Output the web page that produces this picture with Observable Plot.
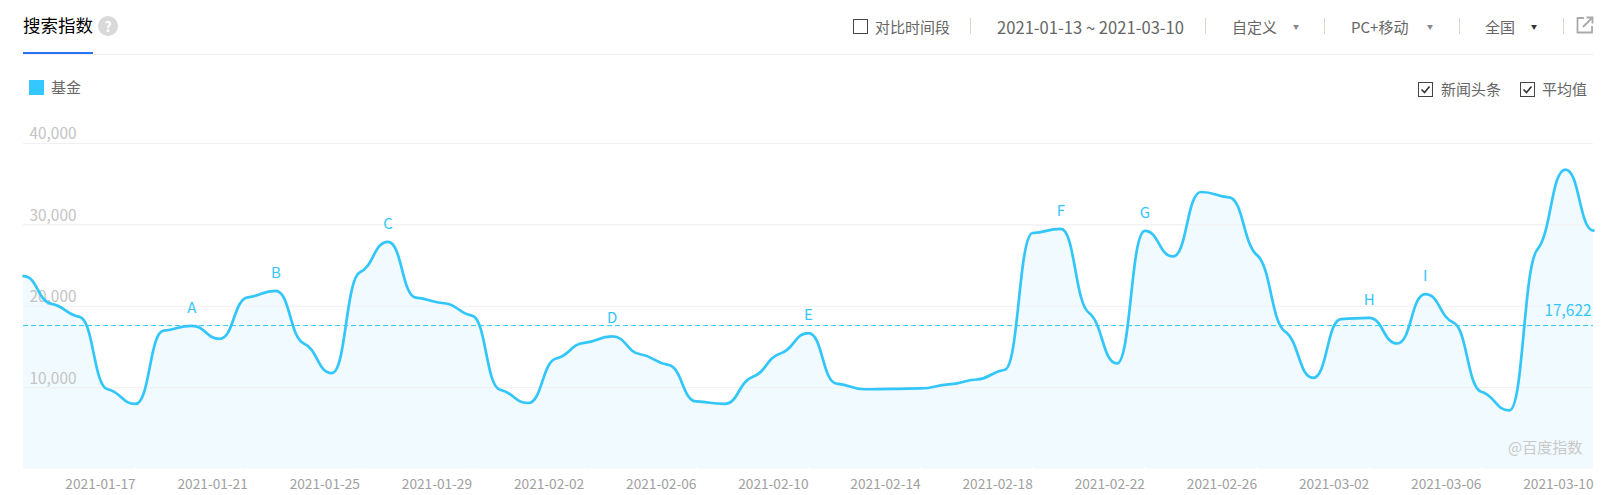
<!DOCTYPE html>
<html lang="zh">
<head>
<meta charset="utf-8">
<script src="https://cdn.jsdelivr.net/npm/d3@7"></script>
<script src="https://cdn.jsdelivr.net/npm/@observablehq/plot@0.6"></script>
<style>
html,body{margin:0;padding:0;background:#fff;}
body{width:1614px;height:495px;overflow:hidden;font-family:"Noto Sans CJK SC","Noto Sans",sans-serif;}
#header{position:relative;width:1614px;height:110px;}
#header span,#header i,#header svg{position:absolute;display:block;font-style:normal;white-space:nowrap;}
.t{font-size:15px;line-height:20px;color:#666;top:17px;}
.div{width:1px;height:16px;top:18px;background:#e0d6cf;}
.arr{font-size:6px;line-height:10px;top:22px;color:#888;}
#chart svg{display:block;}
</style>
</head>
<body>
<div id="header"></div>
<div id="chart"></div>
<script>
const dates = ["2021-01-13","2021-01-14","2021-01-15","2021-01-16","2021-01-17","2021-01-18","2021-01-19","2021-01-20","2021-01-21","2021-01-22","2021-01-23","2021-01-24","2021-01-25","2021-01-26","2021-01-27","2021-01-28","2021-01-29","2021-01-30","2021-01-31","2021-02-01","2021-02-02","2021-02-03","2021-02-04","2021-02-05","2021-02-06","2021-02-07","2021-02-08","2021-02-09","2021-02-10","2021-02-11","2021-02-12","2021-02-13","2021-02-14","2021-02-15","2021-02-16","2021-02-17","2021-02-18","2021-02-19","2021-02-20","2021-02-21","2021-02-22","2021-02-23","2021-02-24","2021-02-25","2021-02-26","2021-02-27","2021-02-28","2021-03-01","2021-03-02","2021-03-03","2021-03-04","2021-03-05","2021-03-06","2021-03-07","2021-03-08","2021-03-09","2021-03-10"];
const values = [23700,20300,18700,9800,8000,17000,17600,16000,21100,21900,15420,11790,24170,27920,21050,20370,18850,9740,8110,13580,15500,16300,14100,12800,8300,8000,11300,14200,16700,10500,9800,9850,9900,10400,11000,12200,29000,29500,19200,12970,29270,26120,34040,33390,26280,16890,11200,18430,18560,15420,21500,18000,9500,7200,27000,36800,29300];
const xTickLabels = ["2021-01-17","2021-01-21","2021-01-25","2021-01-29","2021-02-02","2021-02-06","2021-02-10","2021-02-14","2021-02-18","2021-02-22","2021-02-26","2021-03-02","2021-03-06","2021-03-10"];
const yTicks = [10000,20000,30000,40000];
const average = 17622;
const newsDates = ["2021-01-19","2021-01-22","2021-01-26","2021-02-03","2021-02-10","2021-02-19","2021-02-22","2021-03-02","2021-03-04"];
const newsLabels = ["A","B","C","D","E","F","G","H","I"];

const parse = d3.utcParse("%Y-%m-%d");
const fmt = d3.utcFormat("%Y-%m-%d");
const series = dates.map((d,i)=>({date:parse(d),value:values[i]}));
const news = newsDates.map((d,i)=>({date:parse(d),value:values[dates.indexOf(d)],label:newsLabels[i]}));
const first = series[0].date, last = series[series.length-1].date;
const blue = "#33c6fb";
const font = '"Noto Sans CJK SC","Noto Sans",sans-serif';

// A smoothing curve with shallow tangents at every sample, which gives the reference its shelves.
function shelfCurve(context){
  let xs, ys, line = NaN;
  return {
    areaStart(){ line = 0; },
    areaEnd(){ line = NaN; },
    lineStart(){ xs = []; ys = []; },
    point(x,y){ xs.push(+x); ys.push(+y); },
    lineEnd(){
      const n = xs.length;
      if (n) {
        if (line === 1) context.lineTo(xs[0],ys[0]); else context.moveTo(xs[0],ys[0]);
        const s = d3.range(n-1).map(i=>(ys[i+1]-ys[i])/(xs[i+1]-xs[i]));
        const m = xs.map((_,i)=>{
          if (i===0||i===n-1) return 0;
          const a=s[i-1], b=s[i];
          if (a*b<=0) return 0;
          return Math.sign(a)*0.4*Math.min(Math.abs(a),Math.abs(b));
        });
        for (let i=0;i<n-1;i++){
          const h=(xs[i+1]-xs[i])*0.5;
          context.bezierCurveTo(xs[i]+h,ys[i]+m[i]*h,xs[i+1]-h,ys[i+1]-m[i+1]*h,xs[i+1],ys[i+1]);
        }
      }
      if (line === 1) context.closePath();
      if (line === 0) line = 1;
    }
  };
}

const chart = Plot.plot({
  width:1614, height:385,
  marginLeft:23, marginRight:21, marginTop:33, marginBottom:26.5,
  style:{fontFamily:font,background:"transparent",overflow:"visible"},
  x:{type:"utc",domain:[first,last]},
  y:{domain:[0,40000]},
  marks:[
    Plot.areaY(series,{x:"date",y:"value",curve:shelfCurve,fill:"#f1fafe"}),
    Plot.ruleY(yTicks,{stroke:"#f0f1f3",strokeWidth:1.2}),
    Plot.axisY(yTicks,{anchor:"left",tickSize:0,tickPadding:0,textAnchor:"start",dx:6,dy:-9,fontSize:15.4,fill:"#c4c4c4",tickFormat:d=>d3.format(",")(d),label:null}),
    Plot.ruleX(xTickLabels.map(parse),{y1:0,y2:300,stroke:"#fff",strokeWidth:1.2}),
    Plot.axisX(xTickLabels.map(parse),{tickSize:0,tickPadding:10,textAnchor:"end",fontSize:13.7,fill:"#a0a0a0",tickFormat:fmt,label:null}),
    Plot.ruleY([average],{stroke:blue,strokeWidth:1,strokeDasharray:"5 3"}),
    Plot.lineY(series,{x:"date",y:"value",curve:shelfCurve,stroke:blue,strokeWidth:2.7}),
    Plot.text(news,{x:"date",y:"value",text:"label",dy:-18,fontSize:15,fill:blue}),
    Plot.text([average],{x:last,y:d=>d,text:d=>d3.format(",")(d),textAnchor:"end",dx:-2,dy:-14.5,fontSize:15.4,fill:blue})
  ]
});
document.getElementById("chart").appendChild(chart);

const h = document.getElementById("header");
function el(tag,css,text,cls){const e=document.createElement(tag);if(cls)e.className=cls;e.style.cssText=css;if(text!=null)e.textContent=text;h.appendChild(e);return e;}
const box=(x,y,chk)=>{const s=document.createElementNS("http://www.w3.org/2000/svg","svg");s.setAttribute("width",15);s.setAttribute("height",15);s.style.left=x+"px";s.style.top=y+"px";
 s.innerHTML='<rect x="0.5" y="0.5" width="14" height="14" fill="#fff" stroke="#444"/>'+(chk?'<path d="M3.5 7.5l3 3 5-6" fill="none" stroke="#333" stroke-width="1.6"/>':'');h.appendChild(s);};
el("span","left:23px;top:12px;font-size:17.5px;line-height:26px;color:#000;","搜索指数");
el("span","left:98px;top:16px;width:20px;height:20px;border-radius:50%;background:#d9d9d9;color:#fff;font-weight:700;font-size:14px;line-height:20px;text-align:center;","?");
el("i","left:23px;top:54px;width:1570px;height:1px;background:#eceef0;");
el("i","left:23px;top:52px;width:70px;height:2px;background:#2a73f0;");
box(853,19,false);
el("span","left:875px;","对比时间段","t");
el("i","left:970px;","", "div");
el("span","left:997px;font-size:16.6px;","2021-01-13 ~ 2021-03-10","t");
el("i","left:1205px;","", "div");
el("span","left:1232px;","自定义","t");
el("span","left:1293px;","▼","arr");
el("i","left:1324px;","", "div");
el("span","left:1351px;","PC+移动","t");
el("span","left:1427px;","▼","arr");
el("i","left:1459px;","", "div");
el("span","left:1485px;","全国","t");
el("span","left:1531px;color:#333;","▼","arr");
el("i","left:1563px;","", "div");
const ic=document.createElementNS("http://www.w3.org/2000/svg","svg");ic.setAttribute("width",18);ic.setAttribute("height",18);ic.style.left="1576px";ic.style.top="16px";
ic.innerHTML='<path d="M8 2H1.5V16.5H16V10" fill="none" stroke="#aaa" stroke-width="1.8"/><path d="M7 11L16 2M10.5 1.5H16.5V7.5" fill="none" stroke="#aaa" stroke-width="1.8"/>';h.appendChild(ic);
el("i","left:29px;top:80px;width:15px;height:15px;background:#33c8ff;");
el("span","left:51px;top:77px;","基金","t");
box(1418,82,true);
el("span","left:1441px;top:79px;","新闻头条","t");
box(1520,82,true);
el("span","left:1542px;top:79px;","平均值","t");
const wm=document.createElement("div");
wm.style.cssText="position:absolute;left:1508px;top:437px;font-size:15px;line-height:20px;color:#c9c9c9;white-space:nowrap;";
wm.textContent="@百度指数";
document.body.appendChild(wm);
</script>
</body>
</html>
